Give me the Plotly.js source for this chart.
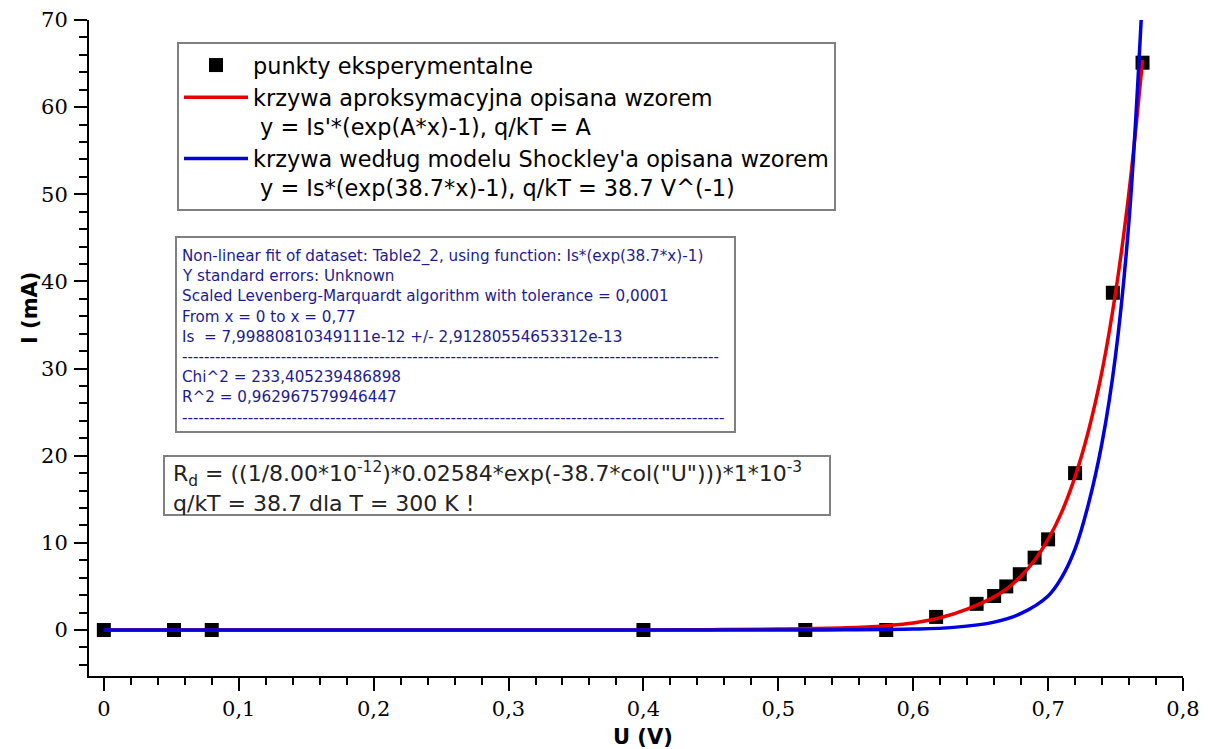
<!DOCTYPE html>
<html>
<head>
<meta charset="utf-8">
<script src="https://cdn.plot.ly/plotly-3.0.1.min.js"></script>
<style>html,body{margin:0;padding:0;background:#fff;}#chart{width:1212px;height:749px;}</style>
</head>
<body>
<div id="chart"></div>
<script>
// Experimental points
const U_meas = [0, 0.052, 0.08, 0.40, 0.52, 0.58, 0.617, 0.647, 0.66, 0.669, 0.679, 0.69, 0.70, 0.72, 0.748, 0.77];
const I_meas = [0, 0, 0, 0, 0, 0, 1.5, 3.0, 3.9, 5.0, 6.4, 8.3, 10.4, 18.0, 38.7, 65.1];

// Red approximation curve
const U_fit = [0, 0.1, 0.2, 0.3, 0.4, 0.45, 0.5, 0.55, 0.58, 0.60, 0.62, 0.64, 0.66, 0.67, 0.68, 0.69, 0.70, 0.71, 0.72, 0.73, 0.74, 0.75, 0.76, 0.77];
const I_fit = [0, 0, 0, 0, 0.01, 0.04, 0.1, 0.25, 0.5, 0.8, 1.4, 2.4, 3.8, 4.8, 6.2, 8.0, 10.4, 13.5, 17.6, 22.9, 29.7, 38.7, 50.3, 65.4];

// Blue Shockley model curve
const U_shk = [0, 0.1, 0.2, 0.3, 0.4, 0.5, 0.55, 0.60, 0.63, 0.66, 0.68, 0.70, 0.71, 0.72, 0.73, 0.74, 0.75, 0.76, 0.769];
const I_shk = [0, 0, 0, 0, 0, 0, 0.02, 0.1, 0.3, 0.9, 1.9, 3.9, 6.0, 9.3, 14.5, 21.5, 31.5, 47.0, 70.0];

// Text content
const legendNames = [
  "punkty eksperymentalne",
  "krzywa aproksymacyjna opisana wzorem<br> y = Is'*(exp(A*x)-1), q/kT = A",
  "krzywa według modelu Shockley'a opisana wzorem<br> y = Is*(exp(38.7*x)-1), q/kT = 38.7 V^(-1)"
];
const fitLines = [
  "Non-linear fit of dataset: Table2_2, using function: Is*(exp(38.7*x)-1)",
  "Y standard errors: Unknown",
  "Scaled Levenberg-Marquardt algorithm with tolerance = 0,0001",
  "From x = 0 to x = 0,77",
  "Is  = 7,99880810349111e-12 +/- 2,91280554653312e-13",
  "-".repeat(98),
  "Chi^2 = 233,405239486898",
  "R^2 = 0,962967579946447",
  "-".repeat(99)
];
const rdLines = [
  "R<sub>d</sub> = ((1/8.00*10<sup>-12</sup>)*0.02584*exp(-38.7*col(\"U\")))*1*10<sup>-3</sup>",
  "q/kT = 38.7 dla T = 300 K !"
];
const xTitle = "U (V)";
const yTitle = "I (mA)";

// pixel helpers (plot area: left 89, right 1183, top 20, bottom 676)
const L = 89, R = 1183, T = 20, B = 676;
const px = v => (v - L) / (R - L);
const py = v => (B - v) / (B - T);

const traces = [
  {x: U_meas, y: I_meas, mode: 'markers', type: 'scatter', name: legendNames[0],
   marker: {symbol: 'square', size: 14, color: '#000'}},
  {x: U_fit, y: I_fit, mode: 'lines', type: 'scatter', name: legendNames[1],
   line: {color: 'rgb(232,0,0)', width: 3.5, shape: 'spline'}},
  {x: U_shk, y: I_shk, mode: 'lines', type: 'scatter', name: legendNames[2],
   line: {color: 'rgb(0,0,225)', width: 3.5, shape: 'spline'}}
];

const annotations = [];
const shapes = [];
// fit report box
shapes.push({type: 'rect', xref: 'paper', yref: 'paper', x0: px(176), x1: px(735), y0: py(237), y1: py(432),
  line: {color: '#808080', width: 2}, fillcolor: '#fff', layer: 'above'});
fitLines.forEach((t, i) => {
  annotations.push({xref: 'paper', yref: 'paper', x: px(180), y: py(256 + i * 20.2), xanchor: 'left', yanchor: 'middle',
    text: t, showarrow: false, font: {family: 'DejaVu Sans', size: 15.2, color: '#1c1c8c'}});
});
// Rd box
shapes.push({type: 'rect', xref: 'paper', yref: 'paper', x0: px(164), x1: px(830), y0: py(456), y1: py(515),
  line: {color: '#808080', width: 2}, fillcolor: '#fff', layer: 'above'});
rdLines.forEach((t, i) => {
  annotations.push({xref: 'paper', yref: 'paper', x: px(171), y: py(474 + i * 29), xanchor: 'left', yanchor: 'middle',
    text: t, showarrow: false, font: {family: 'DejaVu Sans', size: 22, color: '#222'}});
});
// axis titles
annotations.push({xref: 'paper', yref: 'paper', x: px(643), y: py(737), xanchor: 'center', yanchor: 'middle',
  text: '<b>' + xTitle + '</b>', showarrow: false, font: {family: 'DejaVu Sans', size: 21, color: '#000'}});
annotations.push({xref: 'paper', yref: 'paper', x: px(30), y: py(308), xanchor: 'center', yanchor: 'middle', textangle: -90,
  text: '<b>' + yTitle + '</b>', showarrow: false, font: {family: 'DejaVu Sans', size: 21, color: '#000'}});

const layout = {
  width: 1212, height: 749,
  margin: {l: L, r: 1212 - R, t: T, b: 749 - B, pad: 0},
  paper_bgcolor: '#fff', plot_bgcolor: '#fff',
  separators: ', ',
  showlegend: true,
  legend: {x: px(177), y: py(42), xanchor: 'left', yanchor: 'top', bgcolor: '#fff',
    bordercolor: '#808080', borderwidth: 2, font: {family: 'DejaVu Sans', size: 22.4, color: '#000'},
    valign: 'top', itemwidth: 64, tracegroupgap: 0},
  xaxis: {range: [-0.011, 0.8], dtick: 0.1, tick0: 0, showgrid: false, zeroline: false,
    showline: true, linecolor: '#000', linewidth: 2, ticks: 'outside', ticklen: 13, tickwidth: 2, tickcolor: '#000',
    tickfont: {family: 'DejaVu Serif, serif', size: 21, color: '#000'},
    minor: {dtick: 0.02, tick0: 0, ticks: 'outside', ticklen: 7, tickwidth: 2, tickcolor: '#000', showgrid: false}},
  yaxis: {range: [-5.28, 70], dtick: 10, tick0: 0, showgrid: false, zeroline: false,
    showline: true, linecolor: '#000', linewidth: 2, ticks: 'outside', ticklen: 13, tickwidth: 2, tickcolor: '#000',
    tickfont: {family: 'DejaVu Serif, serif', size: 21, color: '#000'}, ticklabelstandoff: 2,
    minor: {dtick: 2, tick0: 0, ticks: 'outside', ticklen: 8, tickwidth: 2, tickcolor: '#000', showgrid: false}},
  shapes: shapes,
  annotations: annotations
};

Plotly.newPlot('chart', traces, layout, {displayModeBar: false, staticPlot: true});
</script>
</body>
</html>
